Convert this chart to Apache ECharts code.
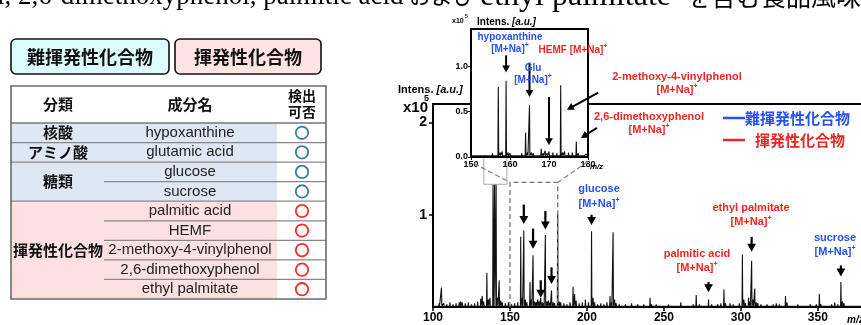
<!DOCTYPE html>
<html>
<head>
<meta charset="utf-8">
<script src="https://cdn.jsdelivr.net/npm/echarts@6/dist/echarts.min.js"></script>
<style>
  html, body { margin: 0; padding: 0; background: #fff; }
  #chart { width: 861px; height: 325px; }
</style>
</head>
<body>
<div id="chart"></div>
<script>
// main spectrum sticks: [m/z, intensity x10^5]
const mainPeaks = [
  [104, 0.04], [105.5, 0.21], [107, 0.04], [109, 0.03], [111, 0.05], [113, 0.03], [115, 0.04],
  [117, 0.05], [118, 0.06], [119, 0.05], [121, 0.04], [123, 0.05], [125, 0.03], [127, 0.04],
  [129, 0.06], [131, 0.09], [132, 0.12], [133, 0.06], [135, 0.37], [136, 0.08], [137, 0.1],
  [139, 1.33], [140, 1.33], [141, 1.33], [142, 0.1], [143, 0.29], [144, 0.07], [145, 0.05],
  [147, 0.04], [149, 0.05], [151, 0.03], [153, 0.04], [155, 0.05], [157, 0.76], [158, 0.1],
  [159, 0.83], [160, 0.08], [161, 0.05], [163, 0.27], [164, 0.08], [165, 0.56], [166, 0.06],
  [167, 0.05], [168, 0.08], [169, 0.06], [170, 0.1], [171, 0.05], [172, 0.04], [173, 0.78],
  [174, 0.06], [175, 0.07], [176, 0.05], [177, 0.18], [178, 0.05], [179, 0.04], [181, 1.01],
  [182, 0.06], [183, 0.05], [185, 0.04], [187, 0.03], [189, 0.05], [191, 0.22], [192, 0.14],
  [193, 0.07], [195, 0.04], [197, 0.05], [199, 0.08], [201, 0.05], [203, 0.82], [204, 0.1],
  [205, 0.05], [207, 0.03], [209, 0.04], [211, 0.03], [213, 0.05], [215, 0.12], [216, 0.05],
  [217, 0.81], [218, 0.08], [219, 0.04], [221, 0.03], [225, 0.03], [229, 0.04], [233, 0.03],
  [237, 0.03], [241, 0.1], [242, 0.03], [245, 0.03], [249, 0.02], [253, 0.03], [257, 0.02],
  [261, 0.05], [265, 0.02], [269, 0.03], [271, 0.13], [273, 0.03], [275, 0.02], [279, 0.08],
  [281, 0.03], [285, 0.03], [287, 0.04], [289, 0.19], [290, 0.04], [293, 0.04], [295, 0.03],
  [297, 0.02], [299, 0.04], [301, 0.57], [302, 0.08], [303, 0.04], [305, 0.1], [306, 0.06],
  [307, 0.5], [308, 0.08], [309, 0.2], [310, 0.05], [311, 0.04], [313, 0.03], [317, 0.03],
  [321, 0.03], [323, 0.04], [325, 0.03], [329, 0.12], [330, 0.05], [333, 0.02], [337, 0.03],
  [341, 0.02], [345, 0.03], [349, 0.03], [351, 0.14], [352, 0.03], [355, 0.02], [359, 0.03],
  [361, 0.05], [363, 0.03], [365, 0.27], [366, 0.06], [367, 0.04], [369, 0.02], [373, 0.02],
  [377, 0.02]
];

// inset (m/z 150-180)
const insetPeaks = [
  [150.5, 0.02], [151.5, 0.03], [152.5, 0.02], [153.5, 0.03], [154.5, 0.02], [155.5, 0.04],
  [156, 0.03], [157, 0.77], [157.5, 0.05], [158, 0.06], [159, 0.84], [159.5, 0.05], [160, 0.04],
  [161, 0.03], [162, 0.02], [163, 0.04], [164, 0.27], [164.5, 0.05], [165, 0.57], [165.5, 0.05],
  [166, 0.04], [167, 0.03], [168, 0.09], [168.5, 0.04], [169, 0.07], [169.5, 0.04], [170, 0.06],
  [171, 0.05], [172, 0.04], [172.5, 0.03], [173, 0.79], [173.5, 0.05], [174, 0.06], [175, 0.05],
  [175.5, 0.03], [176, 0.05], [177, 0.17], [177.5, 0.04], [178, 0.03], [179, 0.02], [179.5, 0.03]
];

// table
const groupNames = ["核酸", "アミノ酸", "糖類", "揮発性化合物"];
const groupSizes = [1, 1, 2, 5];
const groupVolatile = [false, false, false, true];
const compounds = ["hypoxanthine", "glutamic acid", "glucose", "sucrose", "palmitic acid",
  "HEMF", "2-methoxy-4-vinylphenol", "2,6-dimethoxyphenol", "ethyl palmitate"];

// arrows: [m/z, yTail, yTip]
const mainArrows = [[159, 1.11, 0.9], [165, 0.85, 0.63], [173, 1.04, 0.84], [170, 0.29, 0.1],
  [177, 0.43, 0.25], [203, 1.0, 0.89], [279, 0.27, 0.16], [307, 0.76, 0.6], [365, 0.45, 0.33]];
const insetArrows = [[159, 1.12, 0.93], [165, 1.04, 0.66], [170, 0.66, 0.13]];
const insetSlantArrows = [[182.6, 0.71, 174.6, 0.52], [182.3, 0.32, 178.2, 0.21]];

const BLUE = "#2450f5";
const RED = "#f02424";
const LAT = '"Liberation Sans", Arial, sans-serif';
const JP = '"Noto Sans CJK JP", sans-serif';

function sticks(peaks, half, base, lo, hi) {
  const pts = [[lo, base]];
  peaks.forEach(([m, h]) => { pts.push([m - half, base], [m, h], [m + half, base]); });
  pts.push([hi, base]);
  return pts;
}

const chart = echarts.init(document.getElementById("chart"));

const axisCommon = {
  type: "value",
  axisLine: { show: true, lineStyle: { color: "#000", width: 2 } },
  axisTick: { show: true, length: 4, lineStyle: { color: "#000", width: 1.5 } },
  splitLine: { show: false }
};

chart.setOption({
  animation: false,
  backgroundColor: "#fff",
  grid: [
    { left: 433, top: 104, right: -3, bottom: 18, show: true, borderColor: "#000", borderWidth: 2,
      backgroundColor: "transparent", outerBoundsMode: "none", z: 0 },
    { left: 471, top: 29, width: 117, height: 128, show: true, borderColor: "#000", borderWidth: 2,
      backgroundColor: "#fff", outerBoundsMode: "none", z: 10 }
  ],
  xAxis: [
    { ...axisCommon, gridIndex: 0, min: 100, max: 380, interval: 50,
      axisLabel: { color: "#000", fontWeight: "bold", fontSize: 12, fontFamily: LAT, margin: 5, showMaxLabel: false } },
    { ...axisCommon, gridIndex: 1, min: 150, max: 180, interval: 10, z: 12,
      axisTick: { show: true, length: 3, lineStyle: { color: "#000", width: 1 } },
      axisLabel: { color: "#000", fontWeight: "bold", fontSize: 9, fontFamily: LAT, margin: 3 } }
  ],
  yAxis: [
    { ...axisCommon, gridIndex: 0, min: 0, max: 2.2, interval: 1,
      axisLabel: { color: "#000", fontWeight: "bold", fontSize: 14, fontFamily: LAT, margin: 6,
        showMinLabel: false, showMaxLabel: false } },
    { ...axisCommon, gridIndex: 1, min: 0, max: 1.41, interval: 0.5, z: 12,
      axisTick: { show: true, length: 3, lineStyle: { color: "#000", width: 1 } },
      axisLabel: { color: "#000", fontWeight: "bold", fontSize: 9, fontFamily: LAT, margin: 3,
        showMaxLabel: false, formatter: v => v.toFixed(1) } }
  ],
  series: [
    { type: "line", xAxisIndex: 0, yAxisIndex: 0, data: sticks(mainPeaks, 0.22, 0.008, 100, 380),
      symbol: "none", lineStyle: { color: "#111", width: 1.1 }, z: 2, silent: true },
    { type: "line", xAxisIndex: 0, yAxisIndex: 0, data: [[150, 0], [150, 1.35], [181, 1.35], [181, 0]],
      symbol: "none", lineStyle: { color: "#777", width: 1.3, type: [5, 3] }, z: 3, silent: true },
    { type: "line", xAxisIndex: 0, yAxisIndex: 0, data: [[133, 1.62], [133, 1.33], [148, 1.33], [148, 1.62]],
      symbol: "none", lineStyle: { color: "#aaa", width: 1 }, z: 3, silent: true },
    { type: "line", xAxisIndex: 1, yAxisIndex: 1, data: sticks(insetPeaks, 0.1, 0.012, 150, 180),
      symbol: "none", lineStyle: { color: "#111", width: 1.1 }, z: 12, silent: true }
  ]
});

const P = (g, x, y) => chart.convertToPixel({ gridIndex: g }, [x, y]);

const els = [];

function txt(x, y, text, opt) {
  els.push({ type: "text", z: 100, silent: true, style: Object.assign({
    text, x, y, align: "center", verticalAlign: "middle", fill: "#000",
    fontSize: 11, fontWeight: "bold", fontFamily: LAT
  }, opt || {}) });
}
function ion(x, y, color, size, prefix) {
  txt(x, y, (prefix || "") + "[M+Na]{s|+}", { fill: color, fontSize: size,
    rich: { s: { fontSize: Math.round(size * 0.65), fontWeight: "bold", fontFamily: LAT, fill: color, padding: [0, 0, 7, 0] } } });
}
function arrow(p1, p2, w, head) {
  const dx = p2[0] - p1[0], dy = p2[1] - p1[1];
  const len = Math.hypot(dx, dy), ux = dx / len, uy = dy / len;
  const bx = p2[0] - ux * head, by = p2[1] - uy * head;
  const hw = head * 0.55;
  els.push({ type: "line", z: 100, silent: true, shape: { x1: p1[0], y1: p1[1], x2: bx + ux, y2: by + uy },
    style: { stroke: "#000", lineWidth: w } });
  els.push({ type: "polygon", z: 100, silent: true, shape: { points: [
    [p2[0], p2[1]], [bx - uy * hw, by + ux * hw], [bx + uy * hw, by - ux * hw]] },
    style: { fill: "#000" } });
}
function hline(x1, x2, y, color, w) {
  els.push({ type: "line", z: 50, silent: true, shape: { x1, y1: y, x2, y2: y }, style: { stroke: color, lineWidth: w } });
}

// top cropped sentence
txt(-3, -3, "l, 2,6-dimethoxyphenol, palmitic acid", { align: "left", fontSize: 27, fontWeight: "normal", fontFamily: '"Liberation Serif", serif' });
txt(409, -4, "および", { align: "left", fontSize: 22, fontWeight: "normal", fontFamily: JP });
txt(480, -3, "ethyl palmitate", { align: "left", fontSize: 32, fontWeight: "normal", fontFamily: '"Liberation Serif", serif' });
txt(686, -4, "を含む食品風味料", { align: "left", fontSize: 25, fontWeight: "normal", fontFamily: JP });

// buttons
els.push({ type: "rect", z: 50, shape: { x: 11, y: 39, width: 158, height: 35, r: 5 },
  style: { fill: "#dcfcff", stroke: "#111", lineWidth: 1.6 } });
els.push({ type: "rect", z: 50, shape: { x: 175, y: 39, width: 146, height: 35, r: 5 },
  style: { fill: "#ffe4e4", stroke: "#111", lineWidth: 1.6 } });
txt(90, 57, "難揮発性化合物", { fontSize: 18, fontFamily: JP, fill: "#111" });
txt(248, 57, "揮発性化合物", { fontSize: 18, fontFamily: JP, fill: "#111" });

// table
const tx = 11, tr = 326, c1 = 104, c2 = 277, headTop = 86, headBot = 123;
const rowH = (299 - headBot) / compounds.length;
txt(58, 104, "分類", { fontSize: 15, fontFamily: JP, fill: "#111" });
txt(190, 104, "成分名", { fontSize: 15, fontFamily: JP, fill: "#111" });
txt(302, 96, "検出", { fontSize: 14, fontFamily: JP, fill: "#111" });
txt(302, 112, "可否", { fontSize: 14, fontFamily: JP, fill: "#111" });
let yy = headBot, ci = 0;
groupNames.forEach((g, gi) => {
  const n = groupSizes[gi], h = n * rowH;
  els.push({ type: "rect", z: 40, shape: { x: tx, y: yy, width: c2 - tx, height: h },
    style: { fill: groupVolatile[gi] ? "#fde1e1" : "#dde8f4" } });
  txt(58, yy + h / 2, g, { fontSize: 15, fontFamily: JP, fill: "#111" });
  for (let r = 0; r < n; r++) {
    const cy = yy + (r + 0.5) * rowH;
    txt(190, cy, compounds[ci++], { fontSize: 15, fontWeight: "normal", fill: "#222" });
    els.push({ type: "circle", z: 60, shape: { cx: 302, cy, r: 6.2 },
      style: { fill: "none", stroke: groupVolatile[gi] ? "#ff2a2a" : "#3a7ca6", lineWidth: 1.8 } });
    if (r > 0) hline(c1, tr, yy + r * rowH, "#888", 1.2);
  }
  yy += h;
  if (gi < groupNames.length - 1) hline(tx, tr, yy, "#888", 1.2);
});
hline(tx, tr, headBot, "#777", 1.4);
els.push({ type: "rect", z: 55, shape: { x: tx, y: headTop, width: tr - tx, height: 299 - headTop },
  style: { fill: "none", stroke: "#6a6a6a", lineWidth: 1.6 } });

// main axis titles
txt(398, 90, "Intens. {i|[a.u.]}", { align: "left", fontSize: 11,
  rich: { i: { fontSize: 11, fontWeight: "bold", fontStyle: "italic", fontFamily: LAT } } });
txt(403, 108, "x10", { align: "left", fontSize: 15 });
txt(424, 99, "5", { align: "left", fontSize: 9 });
txt(847, 320, "m/z", { align: "left", fontSize: 10, fontStyle: "italic" });

// inset titles
txt(477, 22, "Intens. {i|[a.u.]}", { align: "left", fontSize: 10,
  rich: { i: { fontSize: 10, fontWeight: "bold", fontStyle: "italic", fontFamily: LAT } } });
txt(452, 21, "x10", { align: "left", fontSize: 7 });
txt(465, 17, "5", { align: "left", fontSize: 5 });
txt(590, 167, "m/z", { align: "left", fontSize: 8, fontStyle: "italic" });

// connecting dashed lines
[[P(1, 150.8, -0.07), P(0, 150, 1.35)], [P(1, 180, -0.05), P(0, 181, 1.35)]].forEach(([a, b]) => {
  els.push({ type: "line", z: 30, silent: true, shape: { x1: a[0], y1: a[1], x2: b[0], y2: b[1] },
    style: { stroke: "#888", lineWidth: 1.3, lineDash: [5, 3] } });
});

// arrows
mainArrows.forEach(([m, a, b]) => arrow(P(0, m, a), P(0, m, b), 2.2, 8));
insetArrows.forEach(([m, a, b]) => arrow(P(1, m, a), P(1, m, b), 2, 7));
insetSlantArrows.forEach(([m1, a, m2, b]) => arrow(P(1, m1, a), P(1, m2, b), 2, 7));

// inset labels
txt(510, 37, "hypoxanthine", { fill: BLUE, fontSize: 10 });
ion(510, 49, BLUE, 10);
ion(573, 50, RED, 10, "HEMF ");
txt(533, 68, "Glu", { fill: BLUE, fontSize: 10 });
ion(533, 80, BLUE, 10);

// main labels
txt(677, 77, "2-methoxy-4-vinylphenol", { fill: RED });
ion(677, 90, RED, 11);
txt(649, 117, "2,6-dimethoxyphenol", { fill: RED });
ion(649, 130, RED, 11);
txt(599, 189, "glucose", { fill: BLUE });
ion(599, 204, BLUE, 11);
txt(751, 208, "ethyl palmitate", { fill: RED });
ion(751, 222, RED, 11);
txt(697, 254, "palmitic acid", { fill: RED });
ion(697, 268, RED, 11);
txt(835, 238, "sucrose", { fill: BLUE });
ion(835, 252, BLUE, 11);

// legend
hline(723, 745, 118, BLUE, 2.5);
hline(723, 745, 140, RED, 2.5);
txt(745, 118, "難揮発性化合物", { align: "left", fill: BLUE, fontSize: 15, fontFamily: JP });
txt(755, 140, "揮発性化合物", { align: "left", fill: RED, fontSize: 15, fontFamily: JP });

chart.setOption({ graphic: { elements: els } });
</script>
</body>
</html>
